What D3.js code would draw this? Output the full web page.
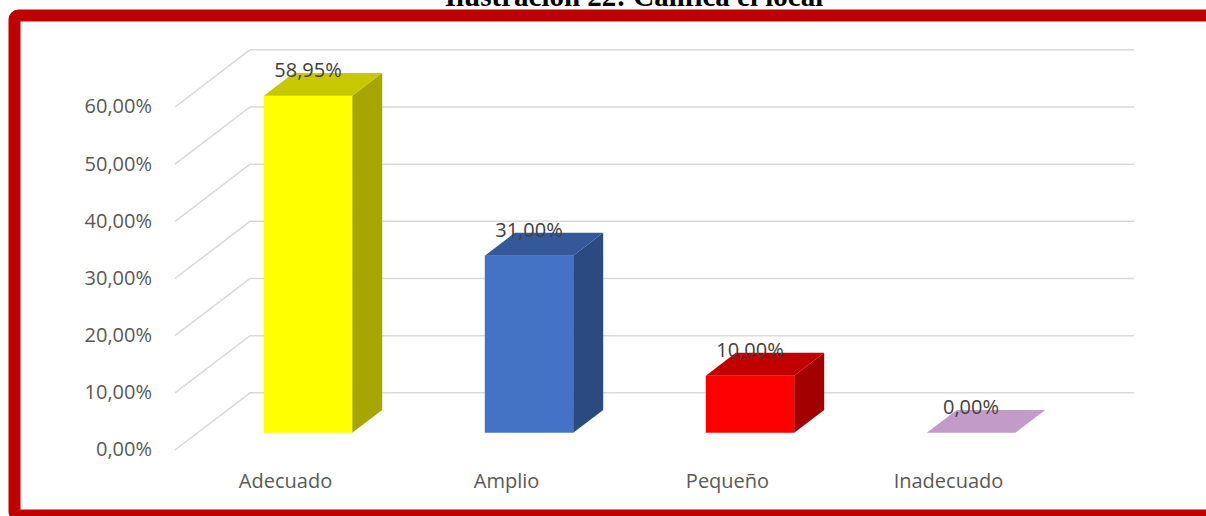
<!DOCTYPE html>
<html>
<head>
<meta charset="utf-8">
<script src="https://cdn.jsdelivr.net/npm/d3@7"></script>
<style>
  html, body { margin: 0; padding: 0; background: #fff; }
  svg { display: block; }
</style>
</head>
<body>
<svg id="chart" width="1206" height="516"></svg>
<script>
// Data
const categories = ["Adecuado", "Amplio", "Pequeño", "Inadecuado"];
const values = [58.95, 31.00, 10.00, 0.00];
const tickValues = [0, 10, 20, 30, 40, 50, 60];
const titleText = "Ilustración 22: Califica el local";

// Face colours per bar: front, top, side
const frontColors = ["#FFFF00", "#4472C4", "#FF0000", "#C39BC9"];
const topColors   = ["#C8C800", "#34589A", "#C00000", "#C39BC9"];
const sideColors  = ["#A6A600", "#2B4A80", "#A30000", "#9E7BA3"];

const locale = d3.formatLocale({ decimal: ",", thousands: ".", grouping: [3], currency: ["", "€"] });
const pct = v => locale.format(".2f")(v) + "%";

const svg = d3.select("#chart");

// 3D frame: front plane origin and depth vector
const x0 = 175, y0 = 450;
const depth = { dx: 75, dy: -57.17 };
const plotW = 884;

const x = d3.scaleBand().domain(categories).range([0, plotW])
  .paddingInner(0.6).paddingOuter(0.3);
const y = d3.scaleLinear().domain([0, 60]).range([0, 343]);

// project (horizontal offset, value, depth fraction) to screen
const P = (hx, v, t) => [x0 + hx + depth.dx * t, y0 - y(v) + depth.dy * t];

// Side-wall and back-wall gridlines
const grid = svg.append("g").attr("stroke", "#D9D9D9").attr("stroke-width", 1.5).attr("fill", "none");
tickValues.forEach(tv => {
  const a = P(0, tv, 0), b = P(0, tv, 1), c = P(plotW, tv, 1);
  grid.append("path").attr("d", `M${a[0]},${a[1]}L${b[0]},${b[1]}L${c[0]},${c[1]}`);
});

// Y tick labels
svg.append("g").selectAll("text").data(tickValues).join("text")
  .attr("x", 152).attr("y", d => P(0, d, 0)[1] + 1)
  .attr("text-anchor", "end").attr("dominant-baseline", "middle")
  .attr("font-family", "'Open Sans', sans-serif").attr("font-size", 20)
  .attr("fill", "#595959")
  .text(d => pct(d));

// Category labels
svg.append("g").selectAll("text").data(categories).join("text")
  .attr("x", d => P(x(d) + x.bandwidth() / 2, 0, 0)[0])
  .attr("y", 488)
  .attr("text-anchor", "middle")
  .attr("font-family", "'Open Sans', sans-serif").attr("font-size", 20)
  .attr("fill", "#595959")
  .text(d => d);

// Bars as boxes between depth 0.3 and 0.7
const t1 = 0.3, t2 = 0.7;
const poly = pts => "M" + pts.map(p => p.join(",")).join("L") + "Z";
const bars = svg.append("g");
categories.forEach((c, i) => {
  const v = values[i];
  const xl = x(c), xr = x(c) + x.bandwidth();
  const side = [P(xr, 0, t1), P(xr, 0, t2), P(xr, v, t2), P(xr, v, t1)];
  const top = [P(xl, v, t1), P(xr, v, t1), P(xr, v, t2), P(xl, v, t2)];
  const front = [P(xl, 0, t1), P(xr, 0, t1), P(xr, v, t1), P(xl, v, t1)];
  if (v > 0) {
    bars.append("path").attr("d", poly(side)).attr("fill", sideColors[i]);
    bars.append("path").attr("d", poly(front)).attr("fill", frontColors[i]);
  }
  bars.append("path").attr("d", poly(top)).attr("fill", topColors[i]);
});

// Value labels
svg.append("g").selectAll("text").data(values).join("text")
  .attr("x", (d, i) => P(x(categories[i]) + x.bandwidth() / 2, 0, t1)[0])
  .attr("y", d => P(0, d, t2)[1] - 1)
  .attr("text-anchor", "middle").attr("dominant-baseline", "middle")
  .attr("font-family", "'Open Sans', sans-serif").attr("font-size", 20)
  .attr("fill", "#404040")
  .text(d => pct(d));

// Frame
svg.append("rect")
  .attr("x", 14.5).attr("y", 15.5).attr("width", 1300).attr("height", 500)
  .attr("rx", 4)
  .attr("fill", "none").attr("stroke", "#C00000").attr("stroke-width", 12);

// Title
svg.append("text")
  .attr("x", 634).attr("y", 6)
  .attr("text-anchor", "middle")
  .attr("font-family", "'Liberation Serif', 'Times New Roman', serif")
  .attr("font-weight", "bold").attr("font-size", 29)
  .attr("fill", "#000")
  .text(titleText);
</script>
</body>
</html>
